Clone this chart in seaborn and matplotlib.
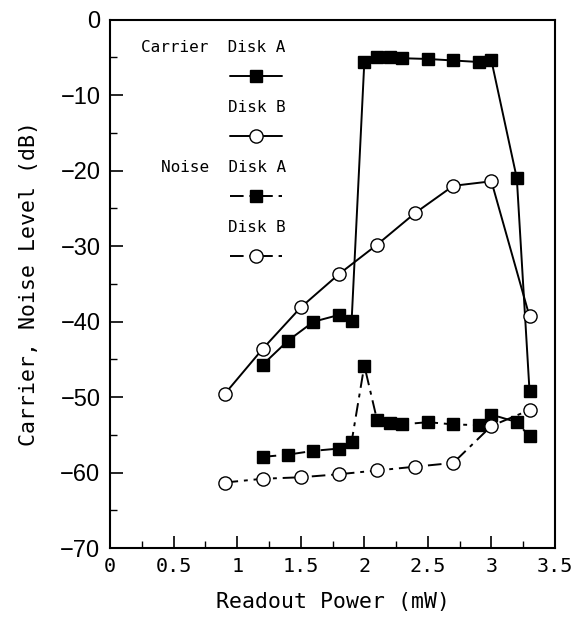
import matplotlib
matplotlib.use("Agg")
import matplotlib.pyplot as plt
import pandas as pd
import seaborn as sns
from matplotlib.ticker import MultipleLocator

# 読み取り値 (Readout Power [mW] vs level [dB])
carrier_a_x = [1.2, 1.4, 1.6, 1.8, 1.9, 2.0, 2.1, 2.2, 2.3, 2.5, 2.7, 2.9, 3.0, 3.2, 3.3]
carrier_a_y = [-45.7, -42.5, -40.0, -39.1, -39.9, -5.6, -5.0, -5.0, -5.1, -5.2, -5.4, -5.6, -5.4, -21.0, -49.2]

carrier_b_x = [0.9, 1.2, 1.5, 1.8, 2.1, 2.4, 2.7, 3.0, 3.3]
carrier_b_y = [-49.6, -43.6, -38.1, -33.7, -29.8, -25.6, -22.0, -21.4, -39.3]

noise_a_x = [1.2, 1.4, 1.6, 1.8, 1.9, 2.0, 2.1, 2.2, 2.3, 2.5, 2.7, 2.9, 3.0, 3.2, 3.3]
noise_a_y = [-57.9, -57.6, -57.1, -56.8, -55.9, -45.8, -53.0, -53.4, -53.6, -53.3, -53.6, -53.7, -52.3, -53.3, -55.2]

noise_b_x = [0.9, 1.2, 1.5, 1.8, 2.1, 2.4, 2.7, 3.0, 3.3]
noise_b_y = [-61.3, -60.8, -60.6, -60.2, -59.7, -59.2, -58.7, -53.8, -51.7]

legend_titles = ["Carrier  Disk A", "Disk B", "Noise  Disk A", "Disk B"]

sns.set_style("white")
plt.rcParams["font.family"] = ["DejaVu Sans Mono", "DejaVu Sans"]
plt.rcParams["text.color"] = "black"
plt.rcParams["axes.labelcolor"] = "black"
plt.rcParams["xtick.color"] = "black"
plt.rcParams["ytick.color"] = "black"

DASHDOT = (0, (7, 3, 2, 3))
styles = [
    dict(marker="s", markersize=8.5, markerfacecolor="black", linestyle="-"),
    dict(marker="o", markersize=9.5, markerfacecolor="white", linestyle="-"),
    dict(marker="s", markersize=8.5, markerfacecolor="black", linestyle=DASHDOT),
    dict(marker="o", markersize=9.5, markerfacecolor="white", linestyle=DASHDOT),
]
series = [
    (carrier_a_x, carrier_a_y),
    (carrier_b_x, carrier_b_y),
    (noise_a_x, noise_a_y),
    (noise_b_x, noise_b_y),
]

fig = plt.figure(figsize=(5.86, 6.36), dpi=100)
ax = fig.add_axes([0.188, 0.138, 0.759, 0.831])

for (xs, ys), st in zip(series, styles):
    df = pd.DataFrame({"power": xs, "level": ys})
    sns.lineplot(data=df, x="power", y="level", ax=ax, color="black",
                 estimator=None, sort=False, linewidth=1.4,
                 markeredgecolor="black", markeredgewidth=1.0, **st)

ax.set_xlim(0, 3.5)
ax.set_ylim(-70, 0)
ax.xaxis.set_minor_locator(MultipleLocator(0.25))
ax.yaxis.set_major_locator(MultipleLocator(10))
ax.yaxis.set_minor_locator(MultipleLocator(5))
ax.set_xticks([0, 0.5, 1, 1.5, 2, 2.5, 3, 3.5])
ax.set_xticklabels(["0", "0.5", "1", "1.5", "2", "2.5", "3", "3.5"])
ax.tick_params(which="both", direction="in", bottom=True, left=True,
               top=False, right=False, color="black")
ax.tick_params(which="major", length=9, width=1.2)
ax.tick_params(which="minor", length=5, width=1.0)
ax.tick_params(axis="x", labelsize=14.5, pad=6)
ax.tick_params(axis="y", pad=7)
for lab in ax.get_yticklabels():
    lab.set_family(["Liberation Sans", "DejaVu Sans"])
    lab.set_fontsize(17)
for sp in ax.spines.values():
    sp.set_color("black")
    sp.set_linewidth(1.5)

ax.set_xlabel("Readout Power (mW)", fontsize=15.5, labelpad=12)
ax.set_ylabel("Carrier, Noise Level (dB)", fontsize=15.5, labelpad=15)

# 凡例 (左上へ手置き)
text_y = [0.947, 0.833, 0.720, 0.606]
key_y = [0.894, 0.780, 0.667, 0.553]
for title, ty, ky, st in zip(legend_titles, text_y, key_y, styles):
    ax.text(0.395, ty, title, transform=ax.transAxes, ha="right", va="center",
            fontsize=11.5)
    ax.plot([0.270, 0.387], [ky, ky], transform=ax.transAxes, color="black",
            linewidth=1.4, linestyle=st["linestyle"])
    ax.plot([0.328], [ky], transform=ax.transAxes, color="black",
            marker=st["marker"], markersize=st["markersize"],
            markerfacecolor=st["markerfacecolor"], markeredgecolor="black",
            linestyle="none")

fig.savefig("out.png", dpi=100)
plt.close(fig)
